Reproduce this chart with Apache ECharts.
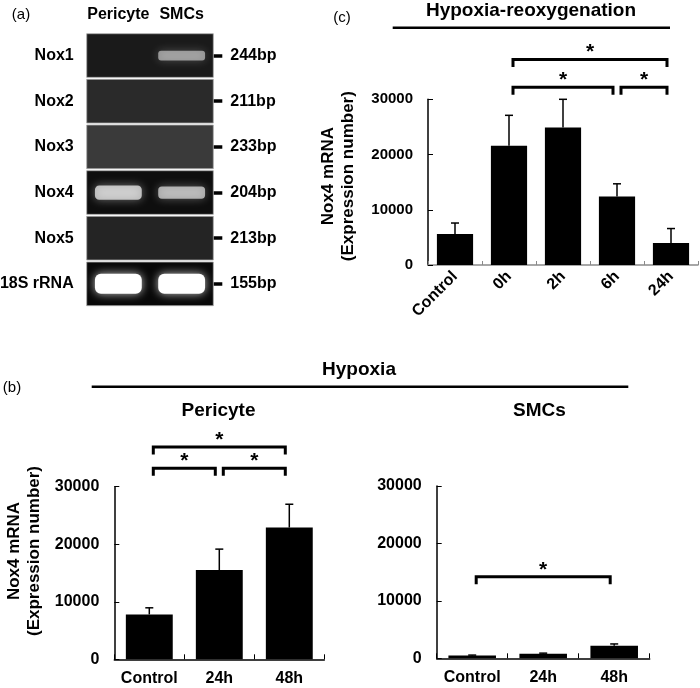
<!DOCTYPE html>
<html>
<head>
<meta charset="utf-8">
<script src="https://cdn.jsdelivr.net/npm/echarts@6/dist/echarts.min.js"></script>
<style>
  html, body { margin: 0; padding: 0; background: #fff; }
  #chart { width: 700px; height: 688px; }
</style>
</head>
<body>
<div id="chart"></div>
<script>
// (a) RT-PCR gel
const gelLanes = ['Pericyte', 'SMCs']
const gelGenes = ['Nox1', 'Nox2', 'Nox3', 'Nox4', 'Nox5', '18S rRNA']
const gelSizes = ['244bp', '211bp', '233bp', '204bp', '213bp', '155bp']
const gelBackground = [26, 42, 58, 14, 36, 8]        // gray level of each strip
const pericyteBands = [0, 0, 0, 0.8, 0, 1]           // band brightness 0..1
const smcBands = [0.6, 0, 0, 0.72, 0, 1]

// (c) hypoxia-reoxygenation
const reoxCategories = ['Control', '0h', '2h', '6h', '24h']
const reoxMean = [5600, 21600, 24900, 12400, 4000]
const reoxSD = [2000, 5500, 5100, 2300, 2600]
const reoxSig = [[1, 4, 37200], [1, 3, 32200], [3, 4, 32200]]

// (b) hypoxia
const hypoxCategories = ['Control', '24h', '48h']
const pericyteMean = [7800, 15500, 22900]
const pericyteSD = [1150, 3650, 4050]
const pericyteSig = [[0, 2, 36900], [0, 1, 33200], [1, 2, 33200]]
const smcMean = [500, 800, 2200]
const smcSD = [60, 100, 300]
const smcSig = [[0, 2, 14200]]

const FONT = 'Liberation Sans, Arial, Helvetica, sans-serif'
const bold = size => ({ color: '#000', fontFamily: FONT, fontWeight: 'bold', fontSize: size })

const chart = echarts.init(document.getElementById('chart'), null, { renderer: 'canvas' })

const renderError = (params, api) => {
  const i = api.value(0)
  const p0 = api.coord([i, api.value(1)])
  const p1 = api.coord([i, api.value(1) + api.value(2)])
  const st = { stroke: '#000', lineWidth: 1.5 }
  return {
    type: 'group',
    children: [
      { type: 'line', shape: { x1: p0[0], y1: p0[1], x2: p1[0], y2: p1[1] }, style: st },
      { type: 'line', shape: { x1: p1[0] - 4, y1: p1[1], x2: p1[0] + 4, y2: p1[1] }, style: st }
    ]
  }
}

const renderBracket = (params, api) => {
  const a = api.coord([api.value(0), api.value(2)])
  const b = api.coord([api.value(1), api.value(2)])
  const x1 = a[0] + 4, x2 = b[0] - 4, y = a[1]
  return {
    type: 'group',
    children: [
      {
        type: 'polyline',
        shape: { points: [[x1, y + 6], [x1, y], [x2, y], [x2, y + 6]] },
        style: { stroke: '#000', lineWidth: 3, fill: null, lineJoin: 'miter', lineCap: 'square' }
      },
      {
        type: 'text', x: (x1 + x2) / 2, y: y - 7,
        style: {
          text: '*', fill: '#000', font: 'bold 21px ' + FONT,
          align: 'center', verticalAlign: 'middle', textAlign: 'center', textVerticalAlign: 'middle'
        }
      }
    ]
  }
}

const renderGelStrip = (params, api) => {
  const cs = params.coordSys
  const c = api.coord([0, api.value(1)])
  const h = api.size([1, 1])[1]
  const g = api.value(2)
  return {
    type: 'rect',
    shape: { x: cs.x, y: c[1] - h / 2 + 1, width: cs.width, height: h - 2 },
    style: { fill: `rgb(${g},${g},${g})`, stroke: 'rgba(170,170,170,0.8)', lineWidth: 1 }
  }
}

const renderBand = (params, api) => {
  const c = api.coord([api.value(0), api.value(1)])
  const sz = api.size([1, 1])
  const v = api.value(2)
  const w = sz[0] * 0.74
  const h = 4 + 16 * v * v
  const a = v >= 1 ? 1 : v * 0.85
  return {
    type: 'rect',
    shape: { x: c[0] - w / 2, y: c[1] - h / 2, width: w, height: h, r: h * 0.3 },
    style: {
      fill: `rgba(255,255,255,${a})`,
      shadowBlur: 10,
      shadowColor: `rgba(255,255,255,${v * 0.75})`
    }
  }
}

const bandData = []
gelGenes.forEach((g, i) => {
  if (pericyteBands[i] > 0) bandData.push([0, i, pericyteBands[i]])
  if (smcBands[i] > 0) bandData.push([1, i, smcBands[i]])
})

const valueAxis = (gridIndex, fontSize, extra) => Object.assign({
  type: 'value',
  gridIndex,
  min: 0,
  max: 30000,
  interval: 10000,
  splitLine: { show: false },
  axisLine: { show: true, lineStyle: { color: '#000', width: 1.5 } },
  axisTick: { show: true, inside: true, length: 5, lineStyle: { color: '#000', width: 1 } },
  axisLabel: Object.assign(bold(fontSize), {
    margin: 15,
    formatter: v => String(v)
  })
}, extra)

const yName = {
  name: 'Nox4 mRNA\n(Expression number)',
  nameLocation: 'middle',
  nameRotate: 90,
  nameGap: 70
}

const catAxis = (gridIndex, data, extra) => Object.assign({
  type: 'category',
  gridIndex,
  data,
  axisLine: { show: true, lineStyle: { color: '#000', width: 1.5 } },
  axisTick: { show: true, inside: true, length: 5, lineStyle: { color: '#000', width: 1 } },
  axisLabel: Object.assign(bold(16), { margin: 11, interval: 0 })
}, extra)

const option = {
  animation: false,
  backgroundColor: '#fff',
  textStyle: { fontFamily: FONT },
  grid: [
    { left: 86.7, top: 32.7, width: 126.6, height: 274, outerBoundsMode: 'none' },
    { left: 428, top: 99.3, width: 270, height: 165.7, outerBoundsMode: 'none' },
    { left: 114.3, top: 486.7, width: 210, height: 172.6, outerBoundsMode: 'none' },
    { left: 436.7, top: 486, width: 213, height: 172.3, outerBoundsMode: 'none' }
  ],
  xAxis: [
    {
      type: 'category', gridIndex: 0, data: gelLanes, position: 'top',
      axisLine: { show: false }, axisTick: { show: false },
      axisLabel: Object.assign(bold(16), { margin: 10, interval: 0 })
    },
    catAxis(1, reoxCategories, {
      axisLine: { show: true, lineStyle: { color: '#8a8a8a', width: 1.5 } },
      axisTick: { show: true, inside: true, length: 4, lineStyle: { color: '#8a8a8a', width: 1 } },
      axisLabel: Object.assign(bold(16), { margin: 9, rotate: 45, interval: 0 })
    }),
    catAxis(2, hypoxCategories),
    catAxis(3, hypoxCategories)
  ],
  yAxis: [
    {
      type: 'category', gridIndex: 0, data: gelGenes, inverse: true,
      axisLine: { show: false }, axisTick: { show: false },
      axisLabel: Object.assign(bold(16), { margin: 13, interval: 0 })
    },
    {
      type: 'category', gridIndex: 0, data: gelSizes, inverse: true, position: 'right',
      axisLine: { show: false },
      axisTick: { show: true, alignWithLabel: true, interval: 0, length: 9, lineStyle: { color: '#000', width: 3.5 } },
      axisLabel: Object.assign(bold(16), { margin: 17, interval: 0 })
    },
    valueAxis(1, 15, Object.assign({}, yName, {
      nameTextStyle: Object.assign(bold(17), { lineHeight: 20, padding: [0, 0, 0, 12] })
    })),
    valueAxis(2, 16, Object.assign({}, yName, {
      nameTextStyle: Object.assign(bold(17), { lineHeight: 20, padding: [0, 0, 0, 44] })
    })),
    valueAxis(3, 16)
  ],
  series: [
    // gel
    {
      type: 'custom', xAxisIndex: 0, yAxisIndex: 0, silent: true,
      data: gelBackground.map((g, i) => [0, i, g]),
      renderItem: renderGelStrip, z: 1
    },
    {
      type: 'custom', xAxisIndex: 0, yAxisIndex: 0, silent: true,
      data: bandData, renderItem: renderBand, z: 2
    },
    // (c)
    {
      type: 'bar', xAxisIndex: 1, yAxisIndex: 2, data: reoxMean,
      barCategoryGap: '33%', itemStyle: { color: '#000' }
    },
    {
      type: 'custom', xAxisIndex: 1, yAxisIndex: 2, z: 3,
      data: reoxMean.map((m, i) => [i, m, reoxSD[i]]), renderItem: renderError
    },
    {
      type: 'custom', xAxisIndex: 1, yAxisIndex: 2, z: 3, clip: false,
      encode: { x: [0, 1], y: 2 },
      data: reoxSig, renderItem: renderBracket
    },
    // (b) pericyte
    {
      type: 'bar', xAxisIndex: 2, yAxisIndex: 3, data: pericyteMean,
      barCategoryGap: '33%', itemStyle: { color: '#000' }
    },
    {
      type: 'custom', xAxisIndex: 2, yAxisIndex: 3, z: 3,
      data: pericyteMean.map((m, i) => [i, m, pericyteSD[i]]), renderItem: renderError
    },
    {
      type: 'custom', xAxisIndex: 2, yAxisIndex: 3, z: 3, clip: false,
      encode: { x: [0, 1], y: 2 },
      data: pericyteSig, renderItem: renderBracket
    },
    // (b) SMCs
    {
      type: 'bar', xAxisIndex: 3, yAxisIndex: 4, data: smcMean,
      barCategoryGap: '33%', itemStyle: { color: '#000' }
    },
    {
      type: 'custom', xAxisIndex: 3, yAxisIndex: 4, z: 3,
      data: smcMean.map((m, i) => [i, m, smcSD[i]]), renderItem: renderError
    },
    {
      type: 'custom', xAxisIndex: 3, yAxisIndex: 4, z: 3, clip: false,
      encode: { x: [0, 1], y: 2 },
      data: smcSig, renderItem: renderBracket
    }
  ],
  graphic: [
    { type: 'text', x: 21, y: 15, style: { text: '(a)', fill: '#000', font: '15px ' + FONT, align: 'center', verticalAlign: 'middle', textAlign: 'center', textVerticalAlign: 'middle' } },
    { type: 'text', x: 342, y: 18, style: { text: '(c)', fill: '#000', font: '15px ' + FONT, align: 'center', verticalAlign: 'middle', textAlign: 'center', textVerticalAlign: 'middle' } },
    { type: 'text', x: 12, y: 388, style: { text: '(b)', fill: '#000', font: '15px ' + FONT, align: 'center', verticalAlign: 'middle', textAlign: 'center', textVerticalAlign: 'middle' } },
    { type: 'text', x: 531, y: 11, style: { text: 'Hypoxia-reoxygenation', fill: '#000', font: 'bold 19px ' + FONT, align: 'center', verticalAlign: 'middle', textAlign: 'center', textVerticalAlign: 'middle' } },
    { type: 'line', shape: { x1: 392.7, y1: 27.7, x2: 670, y2: 27.7 }, style: { stroke: '#000', lineWidth: 2.5 } },
    { type: 'text', x: 359, y: 370, style: { text: 'Hypoxia', fill: '#000', font: 'bold 19px ' + FONT, align: 'center', verticalAlign: 'middle', textAlign: 'center', textVerticalAlign: 'middle' } },
    { type: 'line', shape: { x1: 91.7, y1: 386.7, x2: 628.3, y2: 386.7 }, style: { stroke: '#000', lineWidth: 2.5 } },
    { type: 'text', x: 218.5, y: 411, style: { text: 'Pericyte', fill: '#000', font: 'bold 19px ' + FONT, align: 'center', verticalAlign: 'middle', textAlign: 'center', textVerticalAlign: 'middle' } },
    { type: 'text', x: 539.5, y: 411, style: { text: 'SMCs', fill: '#000', font: 'bold 19px ' + FONT, align: 'center', verticalAlign: 'middle', textAlign: 'center', textVerticalAlign: 'middle' } }
  ]
}

chart.setOption(option)
</script>
</body>
</html>
